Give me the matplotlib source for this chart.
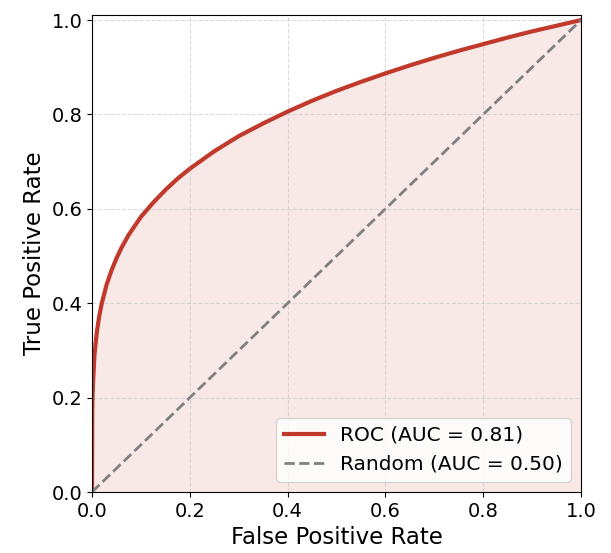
"""ROC curve with the random-classifier diagonal."""

from matplotlib import pyplot

# Points.
fpr = [0.0, 0.0005, 0.001, 0.002, 0.005, 0.0075, 0.01, 0.015, 0.02, 0.03,
       0.04, 0.05, 0.06, 0.075, 0.1, 0.125, 0.15, 0.175, 0.2, 0.25, 0.3,
       0.35, 0.4, 0.45, 0.5, 0.55, 0.6, 0.65, 0.7, 0.75, 0.8, 0.85, 0.9,
       0.95, 1.0]
tpr = [0.0, 0.17, 0.2, 0.23, 0.29, 0.316, 0.34, 0.374, 0.40, 0.44,
       0.47, 0.495, 0.517, 0.545, 0.583, 0.613, 0.64, 0.664, 0.685, 0.722,
       0.754, 0.781, 0.806, 0.829, 0.85, 0.869, 0.887, 0.904, 0.92, 0.935,
       0.949, 0.963, 0.976, 0.988, 1.0]
roc_auc = 0.81
diag = [0.0, 1.0]

red = '#c0392b'

fig = pyplot.figure(figsize=(6.11, 5.53), dpi=100)
ax = fig.add_axes([0.1506, 0.1103, 0.8004, 0.8620])
ax.fill_between(fpr, tpr, 0, color=red, alpha=0.11, linewidth=0)
ax.plot(fpr, tpr, color=red, linewidth=3,
        label=f'ROC (AUC = {roc_auc:.2f})')
ax.plot(diag, diag, color='gray', linestyle='--', linewidth=2,
        label='Random (AUC = 0.50)')
ax.set_xlim(0.0, 1.0)
ax.set_ylim(0.0, 1.01)
ax.set_xlabel('False Positive Rate', fontsize=16.5)
ax.set_ylabel('True Positive Rate', fontsize=16.5)
ax.tick_params(labelsize=14)
ax.grid(True, linestyle='--', color='#cccccc', alpha=0.7)
ax.legend(loc='lower right', fontsize=14.5)

fig.savefig('out.png', dpi=100)
